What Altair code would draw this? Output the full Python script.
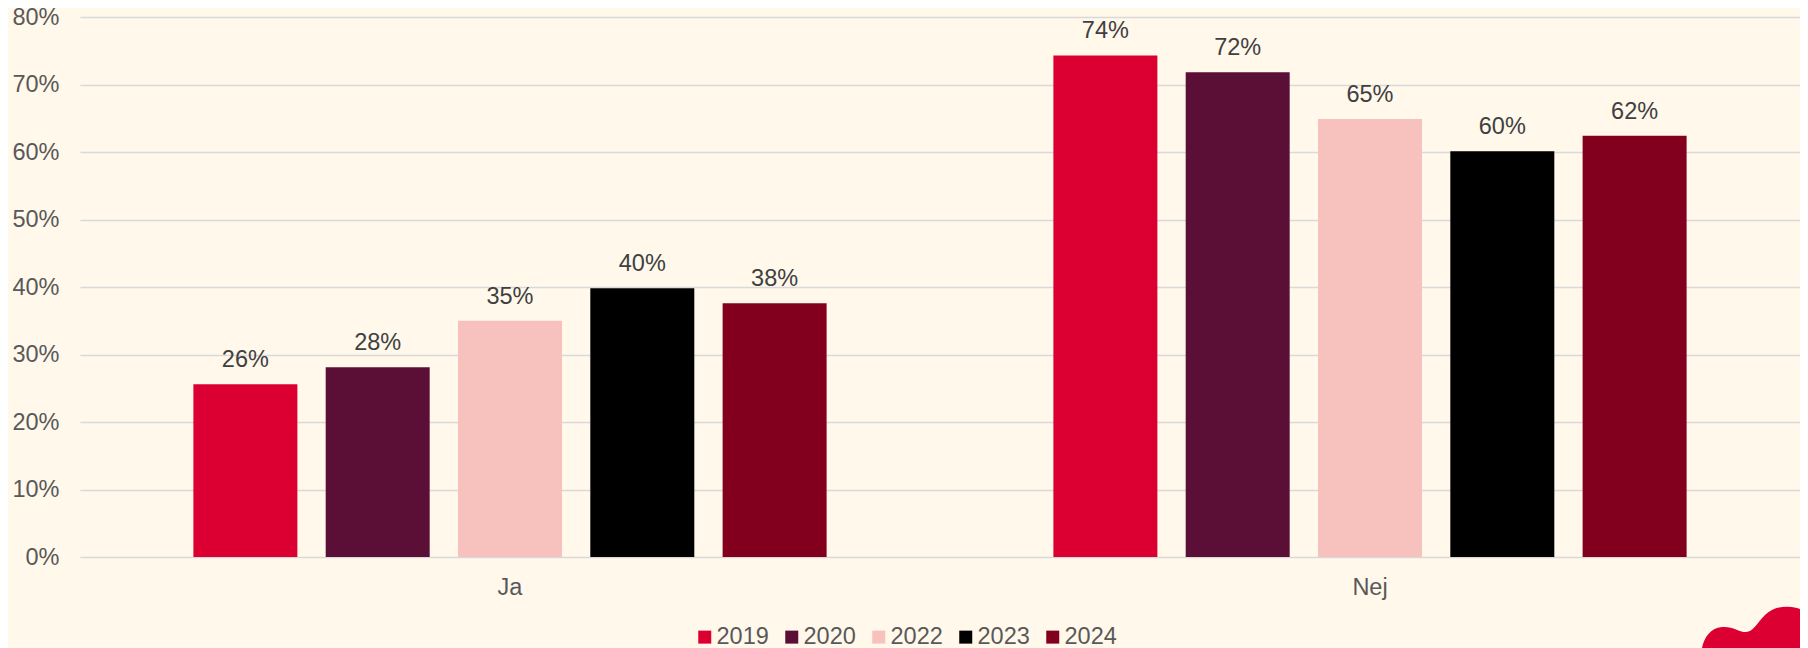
import altair as alt
import pandas as pd

categories = ["Ja", "Nej"]
years = ["2019", "2020", "2022", "2023", "2024"]
ja_values = [0.256, 0.281, 0.350, 0.398, 0.376]
nej_values = [0.743, 0.718, 0.649, 0.601, 0.624]
year_colors = ["#DC0032", "#5C0F36", "#F7C2BD", "#000000", "#82001E"]
y_ticks = [0.0, 0.1, 0.2, 0.3, 0.4, 0.5, 0.6, 0.7, 0.8]

rows = []
for cat, vals in zip(categories, [ja_values, nej_values]):
    for yr, v in zip(years, vals):
        rows.append({"svar": cat, "aar": yr, "andel": v})
df = pd.DataFrame(rows)

FONT = "Liberation Sans"
FS = 23.5

x = alt.X("svar:N", sort=categories,
          scale=alt.Scale(paddingInner=0, paddingOuter=0),
          axis=alt.Axis(title=None, labelAngle=0, labelFontSize=FS, labelColor="#595959",
                        labelFont=FONT, labelPadding=18, ticks=False, domain=False, grid=False))
xoff = alt.XOffset("aar:N", sort=years,
                   scale=alt.Scale(paddingInner=0.214, paddingOuter=0.857))
y = alt.Y("andel:Q", scale=alt.Scale(domain=[0, 0.8], nice=False),
          axis=alt.Axis(title=None, values=y_ticks, format=".0%", labelFontSize=FS,
                        labelColor="#595959", labelFont=FONT, labelPadding=21, ticks=False,
                        domain=False, gridColor="#D9D9D9", gridWidth=1.5))

bars = alt.Chart(df).mark_bar().encode(
    x=x, xOffset=xoff, y=y,
    color=alt.Color("aar:N", sort=years,
                    scale=alt.Scale(domain=years, range=year_colors),
                    legend=alt.Legend(title=None, orient="none", legendX=613, legendY=608,
                                      direction="horizontal", symbolType="square",
                                      symbolSize=169, symbolStrokeWidth=0,
                                      labelFontSize=FS, labelColor="#595959", labelFont=FONT,
                                      labelOffset=0, columnPadding=11, padding=0)),
)

labels = alt.Chart(df).mark_text(baseline="alphabetic", dy=-17, fontSize=FS,
                                 color="#404040", font=FONT).encode(
    x=x, xOffset=xoff, y=y, text=alt.Text("andel:Q", format=".0%"))

BLOB_PATH = ("M -55 27 L -53 15 C -51 5 -45 -5 -33 -6 C -22 -7 -17 -1 -9 -1 "
             "C -2 -1 2 -10 10 -18 C 18 -26 30 -28 42 -25 C 52 -22 57 -15 60 -8 L 60 27 Z")
blob_df = pd.DataFrame({"k": [0]})
blob = alt.Chart(blob_df).mark_point(shape=BLOB_PATH, size=4, filled=True, color="#DC0032",
                                     opacity=1, strokeWidth=0).encode(
    x=alt.value(1675), y=alt.value(616))

chart = alt.layer(bars, labels, blob).properties(
    width=1720, height=540,
    padding={"left": 72, "top": 9, "right": 0, "bottom": 91},
    autosize=alt.AutoSizeParams(type="none"),
).configure(background="#FFF8EB", font=FONT).configure_view(stroke=None)

chart.save("out.html", embed_options={"renderer": "svg", "actions": False})
